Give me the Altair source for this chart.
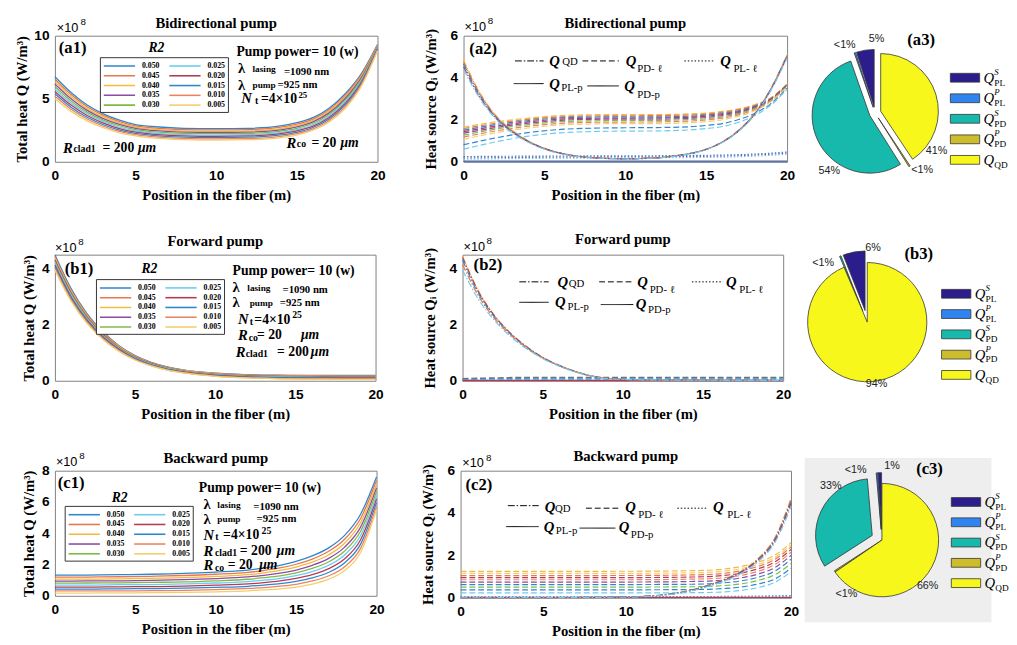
import altair as alt
import pandas as pd

SERIF = "Liberation Serif"
SANS = "Liberation Sans"

# ---------------- categories / labels ----------------
R2 = ["0.050", "0.045", "0.040", "0.035", "0.030", "0.025", "0.020", "0.015", "0.010", "0.005"]
R2_COLORS = ["#2f86cc", "#e8774c", "#f1bb3f", "#8e4aa4", "#7fba45", "#6ccbf2", "#b73a55", "#2f86cc", "#ea8460", "#f5cd6e"]
COLOR_OF = dict(zip(R2, R2_COLORS))
TITLES = ["Bidirectional pump", "Forward pump", "Backward pump"]
X_TITLE = "Position in the fiber (m)"
Y_TITLE_TOTAL = "Total heat Q (W/m³)"
Y_TITLE_SRC = "Heat source Qᵢ (W/m³)"
X_TICKS = [0, 5, 10, 15, 20]

# ---------------- (a1) total heat, bidirectional ----------------
XA = [0, 1, 2, 3, 4, 5, 6, 8, 10, 12, 14, 15, 16, 17, 18, 19, 20]
A1 = [
    [6.75, 5.50, 4.50, 3.80, 3.30, 2.95, 2.80, 2.66, 2.63, 2.66, 2.85, 3.10, 3.50, 4.25, 5.40, 7.00, 9.30],
    [6.55, 5.33, 4.36, 3.68, 3.19, 2.85, 2.70, 2.56, 2.53, 2.56, 2.75, 2.99, 3.39, 4.13, 5.27, 6.89, 9.24],
    [6.36, 5.17, 4.22, 3.56, 3.08, 2.75, 2.60, 2.46, 2.43, 2.46, 2.64, 2.88, 3.28, 4.01, 5.14, 6.78, 9.19],
    [6.17, 5.00, 4.08, 3.43, 2.97, 2.65, 2.50, 2.36, 2.33, 2.36, 2.54, 2.77, 3.17, 3.88, 5.02, 6.67, 9.13],
    [5.97, 4.83, 3.94, 3.31, 2.86, 2.55, 2.40, 2.26, 2.23, 2.26, 2.44, 2.66, 3.06, 3.76, 4.89, 6.56, 9.08],
    [5.78, 4.67, 3.81, 3.19, 2.74, 2.45, 2.30, 2.16, 2.12, 2.15, 2.33, 2.56, 2.94, 3.64, 4.76, 6.44, 9.02],
    [5.58, 4.50, 3.67, 3.07, 2.63, 2.35, 2.20, 2.06, 2.02, 2.05, 2.23, 2.45, 2.83, 3.52, 4.63, 6.33, 8.97],
    [5.39, 4.33, 3.53, 2.94, 2.52, 2.25, 2.10, 1.96, 1.92, 1.95, 2.13, 2.34, 2.72, 3.39, 4.51, 6.22, 8.91],
    [5.19, 4.17, 3.39, 2.82, 2.41, 2.15, 2.00, 1.86, 1.82, 1.85, 2.02, 2.23, 2.61, 3.27, 4.38, 6.11, 8.86],
    [5.00, 4.00, 3.25, 2.70, 2.30, 2.05, 1.90, 1.76, 1.72, 1.75, 1.92, 2.12, 2.50, 3.15, 4.25, 6.00, 8.80],
]

# ---------------- (b1) total heat, forward ----------------
XB = [0, 1, 2, 3, 4, 5, 6, 7, 8, 10, 12, 14, 16, 18, 20]
B1 = [
    [4.50, 3.30, 2.40, 1.75, 1.25, 0.90, 0.66, 0.50, 0.39, 0.27, 0.22, 0.20, 0.19, 0.19, 0.19],
    [4.44, 3.25, 2.36, 1.72, 1.23, 0.88, 0.65, 0.49, 0.38, 0.26, 0.21, 0.19, 0.18, 0.17, 0.17],
    [4.38, 3.20, 2.32, 1.69, 1.21, 0.86, 0.63, 0.47, 0.37, 0.25, 0.19, 0.17, 0.16, 0.16, 0.16],
    [4.32, 3.15, 2.28, 1.66, 1.18, 0.85, 0.62, 0.46, 0.35, 0.23, 0.18, 0.16, 0.15, 0.14, 0.14],
    [4.26, 3.10, 2.24, 1.63, 1.16, 0.83, 0.60, 0.45, 0.34, 0.22, 0.17, 0.14, 0.13, 0.13, 0.13],
    [4.19, 3.05, 2.21, 1.59, 1.14, 0.81, 0.59, 0.43, 0.33, 0.21, 0.15, 0.13, 0.12, 0.11, 0.11],
    [4.13, 3.00, 2.17, 1.56, 1.12, 0.79, 0.57, 0.42, 0.32, 0.20, 0.14, 0.11, 0.10, 0.10, 0.10],
    [4.07, 2.95, 2.13, 1.53, 1.09, 0.78, 0.56, 0.41, 0.30, 0.18, 0.13, 0.10, 0.09, 0.08, 0.08],
    [4.01, 2.90, 2.09, 1.50, 1.07, 0.76, 0.54, 0.39, 0.29, 0.17, 0.11, 0.08, 0.07, 0.07, 0.07],
    [3.95, 2.85, 2.05, 1.47, 1.05, 0.74, 0.53, 0.38, 0.28, 0.16, 0.10, 0.07, 0.06, 0.05, 0.05],
]

# ---------------- (c1) total heat, backward ----------------
XC = [0, 2, 4, 6, 8, 10, 12, 13, 14, 15, 16, 17, 18, 19, 20]
C1 = [
    [1.32, 1.33, 1.35, 1.38, 1.43, 1.52, 1.65, 1.78, 1.95, 2.20, 2.55, 3.05, 3.85, 5.20, 7.60],
    [1.19, 1.20, 1.22, 1.25, 1.30, 1.38, 1.50, 1.62, 1.78, 2.02, 2.35, 2.83, 3.60, 4.93, 7.37],
    [1.07, 1.07, 1.09, 1.12, 1.16, 1.24, 1.35, 1.47, 1.62, 1.84, 2.15, 2.61, 3.35, 4.66, 7.13],
    [0.94, 0.95, 0.96, 0.99, 1.03, 1.10, 1.21, 1.31, 1.45, 1.65, 1.95, 2.38, 3.10, 4.38, 6.90],
    [0.81, 0.82, 0.83, 0.86, 0.89, 0.96, 1.06, 1.16, 1.28, 1.47, 1.75, 2.16, 2.85, 4.11, 6.67],
    [0.69, 0.69, 0.71, 0.72, 0.76, 0.82, 0.91, 1.00, 1.12, 1.29, 1.55, 1.94, 2.60, 3.84, 6.43],
    [0.56, 0.56, 0.58, 0.59, 0.62, 0.68, 0.76, 0.84, 0.95, 1.11, 1.35, 1.72, 2.35, 3.57, 6.20],
    [0.43, 0.43, 0.45, 0.46, 0.49, 0.54, 0.61, 0.69, 0.78, 0.93, 1.15, 1.49, 2.10, 3.29, 5.97],
    [0.31, 0.31, 0.32, 0.33, 0.35, 0.40, 0.47, 0.53, 0.62, 0.74, 0.95, 1.27, 1.85, 3.02, 5.73],
    [0.18, 0.18, 0.19, 0.20, 0.22, 0.26, 0.32, 0.38, 0.45, 0.56, 0.75, 1.05, 1.60, 2.75, 5.50],
]

# ---------------- (a2) heat sources, bidirectional ----------------
QD_A_X = [0, 1, 2, 3, 4, 5, 6, 7, 8, 10, 12, 13, 14, 15, 16, 17, 18, 19, 20]
QD_A_R2 = ["0.040", "0.045", "0.050", "0.020", "0.025"]
QD_A = [
    [4.85, 3.30, 2.20, 1.50, 1.00, 0.65, 0.42, 0.28, 0.20, 0.15, 0.20, 0.28, 0.40, 0.60, 0.95, 1.50, 2.30, 3.50, 5.10],
    [4.75, 3.25, 2.17, 1.48, 0.99, 0.64, 0.41, 0.27, 0.20, 0.15, 0.20, 0.28, 0.40, 0.60, 0.95, 1.50, 2.30, 3.48, 5.07],
    [4.65, 3.18, 2.13, 1.45, 0.97, 0.63, 0.41, 0.27, 0.19, 0.15, 0.19, 0.27, 0.39, 0.59, 0.94, 1.48, 2.28, 3.46, 5.04],
    [4.52, 3.10, 2.08, 1.42, 0.95, 0.62, 0.40, 0.26, 0.19, 0.14, 0.19, 0.27, 0.39, 0.59, 0.93, 1.47, 2.26, 3.43, 5.00],
    [4.40, 3.02, 2.03, 1.38, 0.93, 0.60, 0.39, 0.26, 0.18, 0.14, 0.18, 0.26, 0.38, 0.58, 0.92, 1.45, 2.23, 3.40, 4.95],
]
PD_A_X = [0, 2, 4, 6, 8, 10, 12, 14, 15, 16, 17, 18, 19, 20]
PD_A_R2 = ["0.040", "0.045", "0.050", "0.020", "0.035", "0.030", "0.010", "0.005", "0.015", "0.025"]
PD_A = [
    [1.65, 1.90, 2.08, 2.20, 2.24, 2.25, 2.25, 2.28, 2.32, 2.40, 2.52, 2.72, 3.05, 3.70],
    [1.58, 1.83, 2.02, 2.14, 2.18, 2.19, 2.20, 2.23, 2.27, 2.35, 2.48, 2.68, 3.03, 3.68],
    [1.50, 1.77, 1.96, 2.09, 2.13, 2.14, 2.14, 2.17, 2.22, 2.30, 2.43, 2.65, 3.00, 3.67],
    [1.43, 1.70, 1.90, 2.03, 2.07, 2.08, 2.09, 2.12, 2.17, 2.25, 2.39, 2.61, 2.98, 3.65],
    [1.36, 1.63, 1.84, 1.97, 2.02, 2.03, 2.03, 2.07, 2.11, 2.20, 2.34, 2.57, 2.95, 3.63],
    [1.27, 1.56, 1.77, 1.91, 1.95, 1.97, 1.97, 2.01, 2.05, 2.14, 2.29, 2.53, 2.92, 3.61],
    [1.18, 1.47, 1.69, 1.83, 1.88, 1.89, 1.90, 1.94, 1.99, 2.08, 2.23, 2.49, 2.89, 3.59],
    [1.07, 1.38, 1.61, 1.75, 1.80, 1.82, 1.82, 1.86, 1.91, 2.00, 2.17, 2.43, 2.86, 3.56],
    [0.81, 1.14, 1.39, 1.54, 1.60, 1.62, 1.63, 1.67, 1.73, 1.82, 2.01, 2.30, 2.77, 3.50],
    [0.60, 0.95, 1.22, 1.38, 1.44, 1.46, 1.47, 1.52, 1.58, 1.68, 1.88, 2.20, 2.70, 3.45],
]
PL_A_X = [0, 4, 8, 12, 15, 17, 18, 19, 20]
PL_A_R2 = ["0.050", "0.035", "0.025"]
PL_A = [
    [0.25, 0.27, 0.28, 0.29, 0.31, 0.34, 0.37, 0.41, 0.47],
    [0.18, 0.21, 0.23, 0.24, 0.26, 0.29, 0.32, 0.36, 0.42],
    [0.12, 0.16, 0.18, 0.19, 0.21, 0.24, 0.27, 0.31, 0.36],
]
SOL_A_X = [0, 20]
SOL_A_R2 = ["0.020", "0.050"]
SOL_A = [[0.03, 0.03], [0.01, 0.01]]

# ---------------- (b2) heat sources, forward ----------------
QD_B_X = [0, 1, 2, 3, 4, 5, 6, 7, 8, 9, 10, 12, 15, 20]
QD_B_R2 = ["0.040", "0.020", "0.050", "0.045", "0.025"]
QD_B = [
    [4.45, 3.20, 2.33, 1.70, 1.22, 0.84, 0.56, 0.34, 0.18, 0.09, 0.05, 0.03, 0.02, 0.01],
    [4.40, 3.17, 2.31, 1.69, 1.21, 0.83, 0.55, 0.34, 0.18, 0.09, 0.05, 0.03, 0.02, 0.01],
    [4.30, 3.10, 2.27, 1.66, 1.19, 0.82, 0.55, 0.33, 0.17, 0.09, 0.05, 0.03, 0.02, 0.01],
    [4.15, 3.02, 2.22, 1.63, 1.17, 0.81, 0.54, 0.33, 0.17, 0.09, 0.05, 0.03, 0.02, 0.01],
    [3.95, 2.90, 2.15, 1.58, 1.14, 0.79, 0.53, 0.32, 0.17, 0.08, 0.05, 0.03, 0.02, 0.01],
]
PD_B_X = [0, 2, 5, 10, 15, 20]
PD_B_R2 = ["0.050", "0.015", "0.025"]
PD_B_COLORS = ["#707070", "#2f86cc", "#6ccbf2"]
PD_B = [
    [0.07, 0.10, 0.12, 0.12, 0.12, 0.12],
    [0.04, 0.07, 0.08, 0.08, 0.08, 0.08],
    [0.02, 0.04, 0.05, 0.05, 0.05, 0.05],
]
PL_B_X = [0, 20]
PL_B_R2 = ["0.050"]
PL_B = [[0.02, 0.02]]
SOL_B_X = [0, 20]
SOL_B_R2 = ["0.020"]
SOL_B = [[0.01, 0.01]]

# ---------------- (c2) heat sources, backward ----------------
QD_C_X = [0, 5, 8, 10, 12, 13, 14, 15, 16, 17, 18, 19, 20]
QD_C_R2 = ["0.040", "0.045", "0.050", "0.020", "0.025"]
QD_C = [
    [0.00, 0.01, 0.02, 0.04, 0.12, 0.22, 0.38, 0.60, 0.88, 1.27, 1.85, 2.80, 4.70],
    [0.00, 0.01, 0.02, 0.04, 0.12, 0.21, 0.37, 0.59, 0.87, 1.25, 1.83, 2.77, 4.62],
    [0.00, 0.01, 0.02, 0.04, 0.11, 0.21, 0.36, 0.58, 0.85, 1.23, 1.80, 2.72, 4.55],
    [0.00, 0.01, 0.02, 0.04, 0.11, 0.20, 0.35, 0.57, 0.84, 1.21, 1.77, 2.67, 4.45],
    [0.00, 0.01, 0.02, 0.03, 0.10, 0.19, 0.33, 0.54, 0.80, 1.16, 1.70, 2.58, 4.30],
]
PD_C_X = [0, 4, 8, 12, 14, 15, 16, 17, 18, 19, 20]
PD_C_R2 = ["0.040", "0.005", "0.045", "0.020", "0.010", "0.035", "0.050", "0.030", "0.015", "0.025"]
PD_C = [
    [1.25, 1.25, 1.25, 1.26, 1.28, 1.30, 1.36, 1.48, 1.68, 2.00, 2.60],
    [1.15, 1.15, 1.15, 1.16, 1.18, 1.20, 1.26, 1.38, 1.58, 1.90, 2.50],
    [1.05, 1.05, 1.05, 1.06, 1.08, 1.10, 1.16, 1.28, 1.48, 1.80, 2.40],
    [0.95, 0.95, 0.95, 0.96, 0.98, 1.00, 1.06, 1.17, 1.37, 1.68, 2.28],
    [0.85, 0.85, 0.85, 0.86, 0.88, 0.90, 0.95, 1.06, 1.25, 1.56, 2.15],
    [0.74, 0.74, 0.74, 0.75, 0.77, 0.79, 0.84, 0.94, 1.12, 1.42, 2.00],
    [0.62, 0.62, 0.62, 0.63, 0.64, 0.66, 0.71, 0.80, 0.97, 1.25, 1.82],
    [0.50, 0.50, 0.50, 0.51, 0.52, 0.54, 0.58, 0.66, 0.82, 1.08, 1.62],
    [0.37, 0.37, 0.37, 0.38, 0.39, 0.40, 0.44, 0.51, 0.65, 0.88, 1.40],
    [0.23, 0.23, 0.23, 0.23, 0.24, 0.25, 0.28, 0.35, 0.48, 0.72, 1.22],
]
PL_C_X = [0, 10, 15, 18, 20]
PL_C_R2 = ["0.050", "0.025"]
PL_C = [[0.05, 0.05, 0.06, 0.08, 0.11], [0.03, 0.03, 0.04, 0.05, 0.07]]
SOL_C_X = [0, 20]
SOL_C_R2 = ["0.020"]
SOL_C = [[0.02, 0.02]]

MID_KINDS = ["QD", "PD-l", "PL-l", "PL-p", "PD-p"]
MID_DASHES = [[7, 2, 1.5, 2], [6, 3], [1.5, 2], [1, 0], [1, 0]]

# ---------------- pies ----------------
PIE_CATS = ["Q^S_PL", "Q^P_PL", "Q^S_PD", "Q^P_PD", "Q_QD"]
PIE_COLORS = ["#2b1e8c", "#2f84f0", "#18b9ad", "#cdbd2c", "#f7f71c"]
PIE_SUP = ["S", "P", "S", "P", ""]
PIE_SUB = ["PL", "PL", "PD", "PD", "QD"]
PIE_ORDER = [4, 3, 2, 1, 0]
A3_SHARE = [5, 0.4, 54, 0.4, 41]
A3_TEXT = ["5%", "<1%", "54%", "<1%", "41%"]
B3_SHARE = [6, 0, 0.4, 0, 94]
B3_TEXT = ["6%", "", "<1%", "", "94%"]
C3_SHARE = [1, 0.4, 33, 0.4, 66]
C3_TEXT = ["1%", "<1%", "33%", "<1%", "66%"]
# styling: wedge explode (px) and label angle shift (deg)
A3_EXPLODE = [6, 6, 6, 6, 6]
B3_EXPLODE = [12, 12, 12, 0, 0]
C3_EXPLODE = [11, 11, 11, 0, 0]
A3_LABEL_SHIFT = [11, -6, -28, -7, 52]
B3_LABEL_SHIFT = [18, 0, -17, 0, 3]
C3_LABEL_SHIFT = [11, -19, 24, -23, 17]

# ---------------- annotations (text, x, y, font size) in data coordinates ----------------
ANN_A1 = {
    "b": [("(a1)", 0.24, 9.0, 17), ("Pump power= 10  (w)", 11.25, 8.7, 14), ("λ", 11.35, 7.42, 15),
          ("lasing", 12.25, 7.35, 9.5), ("=1090 nm", 14.2, 7.1, 11), ("λ", 11.35, 6.1, 15),
          ("pump", 12.25, 6.05, 9.5), ("=925 nm", 13.8, 6.05, 11), ("t", 12.4, 4.83, 10),
          ("=4×10", 12.77, 4.96, 14), ("25", 15.1, 5.3, 9), ("clad1", 1.15, 0.98, 10),
          ("= 200", 2.95, 1.1, 14), ("co", 15.0, 1.4, 10), ("= 20", 15.9, 1.47, 14)],
    "bi": [("R2", 5.8, 9.0, 14), ("N", 11.55, 5.04, 15), ("R", 0.5, 1.1, 15), ("μm", 5.15, 1.1, 14),
           ("R", 14.36, 1.47, 15), ("μm", 17.7, 1.47, 14)],
    "s": [("×10", 0.12, 10.58, 13), ("8", 1.58, 11.12, 10)],
}
ANN_B1 = {
    "b": [("(b1)", 0.61, 4.0, 17), ("Pump power= 10  (w)", 11.08, 3.93, 14), ("λ", 11.08, 3.34, 15),
          ("lasing", 12.0, 3.32, 9.5), ("=1090 nm", 14.2, 3.23, 11), ("λ", 11.08, 2.81, 15),
          ("pump", 12.15, 2.76, 9.5), ("=925 nm", 14.03, 2.76, 11), ("t", 12.15, 2.11, 10),
          ("=4×10", 12.44, 2.15, 14), ("25", 14.8, 2.33, 10), ("co", 12.09, 1.54, 10),
          ("= 20", 12.6, 1.62, 14), ("clad1", 11.9, 0.95, 10), ("= 200", 13.86, 1.03, 14)],
    "bi": [("R2", 5.4, 4.0, 14), ("N", 11.42, 2.2, 15), ("R", 11.42, 1.62, 15), ("μm", 15.35, 1.62, 14),
           ("R", 11.28, 1.03, 15), ("μm", 15.96, 1.03, 14)],
    "s": [("×10", 0.0, 4.73, 13), ("8", 1.46, 4.96, 10)],
}
ANN_C1 = {
    "b": [("(c1)", 0.18, 7.21, 17), ("Pump power= 10  (w)", 8.95, 6.86, 14), ("λ", 9.24, 5.87, 15),
          ("lasing", 10.1, 5.83, 9.5), ("=1090 nm", 12.34, 5.66, 11), ("λ", 9.24, 4.92, 15),
          ("pump", 10.1, 4.88, 9.5), ("=925 nm", 12.54, 4.88, 11), ("t", 9.97, 3.76, 10),
          ("=4×10", 10.46, 3.86, 14), ("25", 12.85, 4.12, 10), ("clad1", 9.95, 2.73, 10),
          ("= 200", 11.5, 2.87, 14), ("co", 9.95, 1.8, 10), ("= 20", 10.75, 1.94, 14)],
    "bi": [("R2", 3.53, 6.24, 14), ("N", 9.24, 3.91, 15), ("R", 9.24, 2.87, 15), ("μm", 13.8, 2.87, 14),
           ("R", 9.24, 1.94, 15), ("μm", 12.7, 1.94, 14)],
    "s": [("×10", 0.06, 8.57, 13), ("8", 1.52, 8.93, 10)],
}
MID_A = {
    "tag": ("(a2)", 0.36, 5.38),
    "samples": [(3.18, 4.95, 4.8, "QD"), (7.35, 9.6, 4.8, "PD-l"), (13.65, 15.45, 4.8, "PL-l"),
                (3.1, 4.95, 3.72, "PL-p"), (7.65, 9.6, 3.61, "PD-p")],
    "Q": [(5.3, 4.8), (10.03, 4.8), (15.87, 4.8), (5.3, 3.72), (9.93, 3.61)],
    "sub": [("QD", 6.1, 4.73), ("PD- ℓ", 10.74, 4.39), ("PL- ℓ", 16.68, 4.42), ("PL-p", 6.04, 3.52), ("PD-p", 10.74, 3.18)],
    "exp": ((0.06, 6.4), (1.5, 6.7)),
}
MID_B = {
    "tag": ("(b2)", 0.69, 4.14),
    "samples": [(3.54, 5.37, 3.53, "QD"), (8.52, 10.65, 3.53, "PD-l"), (14.31, 16.24, 3.53, "PL-l"),
                (3.54, 5.37, 2.8, "PL-p"), (8.62, 10.65, 2.72, "PD-p")],
    "Q": [(5.93, 3.53), (10.9, 3.53), (16.44, 3.53), (5.77, 2.8), (10.81, 2.74)],
    "sub": [("QD", 6.63, 3.46), ("PD- ℓ", 11.67, 3.23), ("PL- ℓ", 17.26, 3.23), ("PL-p", 6.54, 2.63), ("PD-p", 11.57, 2.54)],
    "exp": ((0.06, 4.77), (1.5, 4.97)),
}
MID_C = {
    "tag": ("(c2)", 0.3, 5.33),
    "samples": [(2.86, 4.73, 4.35, "QD"), (7.59, 9.66, 4.23, "PD-l"), (13.12, 14.9, 4.23, "PL-l"),
                (2.76, 4.73, 3.36, "PL-p"), (7.2, 9.37, 3.29, "PD-p")],
    "Q": [(5.09, 4.3), (9.96, 4.27), (15.28, 4.27), (5.03, 3.36), (9.57, 3.32)],
    "sub": [("QD", 5.72, 4.2), ("PD- ℓ", 10.75, 3.9), ("PL- ℓ", 16.14, 3.9), ("PL-p", 5.76, 3.17), ("PD-p", 10.3, 2.95)],
    "exp": ((0.1, 6.36), (1.54, 6.62)),
}

STYLES = {"b": (SERIF, "bold", "normal"), "bi": (SERIF, "bold", "italic"),
          "r": (SERIF, "normal", "normal"), "s": (SANS, "normal", "normal")}


def long_df(xs, curves, names, tag, colors=None):
    rows = []
    for i, (name, ys) in enumerate(zip(names, curves)):
        col = colors[i] if colors else COLOR_OF[name]
        for x, y in zip(xs, ys):
            rows.append({"x": x, "y": y, "r2": name, "sid": f"{tag}{i}", "col": col})
    return pd.DataFrame(rows)


def sx():
    return alt.Scale(domain=[0, 20], nice=False, zero=False)


def sy(top):
    return alt.Scale(domain=[0, top], nice=False, zero=False)


def axis_x():
    return alt.Axis(values=X_TICKS, title=X_TITLE, format="d", labelFlush=False, labelPadding=7, titlePadding=6)


def axis_y(vals, title, tpad):
    return alt.Axis(values=vals, title=title, format="d", labelFlush=False, labelPadding=6, titlePadding=tpad)


def ptitle(text, off):
    return alt.TitleParams(text, offset=off)


def text_layers(ann, X, Y, AX, AY):
    out = []
    for key, rows in ann.items():
        font, weight, style = STYLES[key]
        df = pd.DataFrame(rows, columns=["t", "x", "y", "s"])
        out.append(alt.Chart(df).mark_text(align="left", baseline="middle", font=font, fontWeight=weight,
                                           fontStyle=style, color="black").encode(
            x=alt.X("x:Q", scale=X, axis=AX), y=alt.Y("y:Q", scale=Y, axis=AY),
            text="t:N", size=alt.Size("s:Q", scale=None, legend=None)))
    return out


def left_panel(xs, curves, ytop, yvals, title, toff, w, h, legx, legy, ann):
    X, Y = sx(), sy(ytop)
    AX, AY = axis_x(), axis_y(yvals, Y_TITLE_TOTAL, 5)
    df = long_df(xs, curves, R2, "c")
    lines = alt.Chart(df).mark_line(strokeWidth=1.3, interpolate="monotone").encode(
        x=alt.X("x:Q", scale=X, axis=AX),
        y=alt.Y("y:Q", scale=Y, axis=AY),
        color=alt.Color("r2:N",
                        scale=alt.Scale(domain=R2, range=R2_COLORS),
                        legend=alt.Legend(orient="none", legendX=legx, legendY=legy, columns=2, title=None,
                                          symbolType="M-3.2,0H3.2", symbolSize=100, symbolStrokeWidth=1.6,
                                          symbolOffset=11, labelOffset=17, labelFont=SERIF,
                                          labelFontWeight="bold", labelFontSize=8, labelColor="black",
                                          fillColor="white", strokeColor="#333333", padding=3,
                                          rowPadding=0, columnPadding=6)))
    return alt.layer(lines, *text_layers(ann, X, Y, AX, AY)).properties(
        width=w, height=h, title=ptitle(title, toff))


def mid_panel(groups, ytop, yvals, title, toff, w, h, lg):
    X, Y = sx(), sy(ytop)
    AX, AY = axis_x(), axis_y(yvals, Y_TITLE_SRC, 12)
    layers = []
    for df, dash, sw in groups:
        mk = dict(strokeWidth=sw, interpolate="monotone")
        if dash:
            mk["strokeDash"] = dash
        layers.append(alt.Chart(df).mark_line(**mk).encode(
            x=alt.X("x:Q", scale=X, axis=AX), y=alt.Y("y:Q", scale=Y, axis=AY),
            detail="sid:N", color=alt.Color("col:N", scale=None)))
    sdf = pd.DataFrame(lg["samples"], columns=["x", "x2", "y", "kind"])
    layers.append(alt.Chart(sdf).mark_rule(color="black", strokeWidth=1).encode(
        x=alt.X("x:Q", scale=X, axis=AX), x2="x2:Q", y=alt.Y("y:Q", scale=Y, axis=AY),
        strokeDash=alt.StrokeDash("kind:N", scale=alt.Scale(domain=MID_KINDS, range=MID_DASHES), legend=None)))
    t = lg["tag"]
    ann = {"b": [(t[0], t[1], t[2], 17)],
           "bi": [("Q", x, y, 15) for x, y in lg["Q"]],
           "r": [(s, x, y, 11) for s, x, y in lg["sub"]],
           "s": [("×10", lg["exp"][0][0], lg["exp"][0][1], 13), ("8", lg["exp"][1][0], lg["exp"][1][1], 10)]}
    layers += text_layers(ann, X, Y, AX, AY)
    return alt.layer(*layers).properties(width=w, height=h, title=ptitle(title, toff))


def pie_panel(shares, texts, explode, shift, cx, cy, r, lab_r, tag, tagx, tagy, lx, ly0, step, w, h, bg=None):
    df = pd.DataFrame({"cat": PIE_CATS, "v": shares, "lab": texts, "ex": explode, "sh": shift,
                       "col": PIE_COLORS, "sup": PIE_SUP, "sub": PIE_SUB, "o": PIE_ORDER, "i": list(range(5))})
    base = (alt.Chart(df)
            .transform_joinaggregate(tot="sum(v)")
            .transform_window(cum="sum(v)", sort=[alt.SortField("o", order="ascending")], frame=[None, 0])
            .transform_calculate(t1="2*PI*datum.cum/datum.tot", t0="2*PI*(datum.cum-datum.v)/datum.tot")
            .transform_calculate(mid="(datum.t0+datum.t1)/2")
            .transform_calculate(px=f"{cx}+datum.ex*sin(datum.mid)", py=f"{cy}-datum.ex*cos(datum.mid)",
                                 la="datum.mid+datum.sh*PI/180", ly=f"{ly0}+datum.i*{step}"))
    pos = dict(x=alt.X("px:Q", scale=None, axis=None), y=alt.Y("py:Q", scale=None, axis=None))
    layers = []
    if bg:
        layers.append(alt.Chart(pd.DataFrame({"b": [1]})).mark_rect(color=bg).encode(
            x=alt.value(0), x2=alt.value(w - 4), y=alt.value(-13), y2=alt.value(h)))
    layers.append(base.transform_filter("datum.v > 0").mark_arc(radius=r, stroke="#333333", strokeWidth=0.8).encode(
        theta=alt.Theta("t0:Q", scale=None, stack=None), theta2=alt.Theta2("t1:Q"),
        fill=alt.Fill("col:N", scale=None), **pos))
    layers.append(base.transform_filter("datum.lab != ''").mark_text(font=SANS, fontSize=11, color="#222222").encode(
        theta=alt.Theta("la:Q", scale=None, stack=None), radius=alt.value(lab_r), text="lab:N", **pos))
    layers.append(base.transform_calculate(y0="datum.ly-4.5", y1="datum.ly+4.5").mark_rect(
        stroke="#333333", strokeWidth=0.8).encode(
        x=alt.value(lx), x2=alt.value(lx + 30), y=alt.Y("y0:Q", scale=None, axis=None), y2="y1:Q",
        fill=alt.Fill("col:N", scale=None)))
    layers.append(base.mark_text(align="left", baseline="middle", font=SERIF, fontStyle="italic", fontSize=15,
                                 color="black").encode(x=alt.value(lx + 34), y=alt.Y("ly:Q", scale=None, axis=None),
                                                       text=alt.value("Q")))
    layers.append(base.transform_filter("datum.sup != ''").transform_calculate(yu="datum.ly-6").mark_text(
        align="left", baseline="middle", font=SERIF, fontStyle="italic", fontSize=9, color="black").encode(
        x=alt.value(lx + 45), y=alt.Y("yu:Q", scale=None, axis=None), text="sup:N"))
    layers.append(base.transform_calculate(yd="datum.ly+5").mark_text(
        align="left", baseline="middle", font=SERIF, fontSize=9.5, color="black").encode(
        x=alt.value(lx + 45), y=alt.Y("yd:Q", scale=None, axis=None), text="sub:N"))
    layers.append(alt.Chart(pd.DataFrame({"t": [tag]})).mark_text(
        align="left", baseline="middle", font=SERIF, fontWeight="bold", fontSize=17, color="black").encode(
        x=alt.value(tagx), y=alt.value(tagy), text="t:N"))
    return alt.layer(*layers).properties(width=w, height=h, view=alt.ViewBackground(strokeOpacity=0))


def ind(c):
    return c.resolve_scale(color="independent", strokeDash="independent").resolve_legend(color="independent")


groups_a = [
    (long_df(PD_A_X, PD_A, PD_A_R2, "d"), [6, 3], 1.2),
    (long_df(PL_A_X, PL_A, PL_A_R2, "p"), [1.5, 2], 1.2),
    (long_df(SOL_A_X, SOL_A, SOL_A_R2, "s"), None, 1.2),
    (long_df(QD_A_X, QD_A, QD_A_R2, "q"), [7, 2, 1.5, 2], 1.2),
]
groups_b = [
    (long_df(PD_B_X, PD_B, PD_B_R2, "d", PD_B_COLORS), [6, 3], 1.6),
    (long_df(PL_B_X, PL_B, PL_B_R2, "p"), [1.5, 2], 1.2),
    (long_df(SOL_B_X, SOL_B, SOL_B_R2, "s"), None, 1.4),
    (long_df(QD_B_X, QD_B, QD_B_R2, "q"), [7, 2, 1.5, 2], 1.2),
]
groups_c = [
    (long_df(PD_C_X, PD_C, PD_C_R2, "d"), [6, 3], 1.2),
    (long_df(PL_C_X, PL_C, PL_C_R2, "p"), [1.5, 2], 1.2),
    (long_df(SOL_C_X, SOL_C, SOL_C_R2, "s"), None, 1.4),
    (long_df(QD_C_X, QD_C, QD_C_R2, "q"), [7, 2, 1.5, 2], 1.2),
]

left_a = left_panel(XA, A1, 10, [0, 5, 10], TITLES[0], -15, 330, 129, 46, 22, ANN_A1)
mid_a = mid_panel(groups_a, 6, [0, 2, 4, 6], TITLES[0], -15, 331, 129, MID_A)
pie_a = pie_panel(A3_SHARE, A3_TEXT, A3_EXPLODE, A3_LABEL_SHIFT, 76, 79, 59, 70, "(a3)", 109, 4,
                  153, 43, 21, 195, 165)

left_b = left_panel(XB, B1, 4.5, [0, 2, 4], TITLES[1], -12, 328, 129, 42, 25, ANN_B1)
mid_b = mid_panel(groups_b, 4.5, [0, 2, 4], TITLES[1], -11, 328, 129, MID_B)
pie_b = pie_panel(B3_SHARE, B3_TEXT, B3_EXPLODE, B3_LABEL_SHIFT, 72, 69, 61, 64, "(b3)", 110, -1,
                  148, 40, 20.75, 195, 165)

left_c = left_panel(XC, C1, 8, [0, 2, 4, 6, 8], TITLES[2], -15, 329, 128, 10, 36, ANN_C1)
mid_c = mid_panel(groups_c, 6, [0, 2, 4, 6], TITLES[2], -12, 338, 130, MID_C)
pie_c = pie_panel(C3_SHARE, C3_TEXT, C3_EXPLODE, C3_LABEL_SHIFT, 79, 71, 58, 66, "(c3)", 114, -2,
                  150, 32, 20.75, 195, 155, bg="#eeeeee")

row_a = ind(alt.hconcat(ind(alt.hconcat(left_a, mid_a, spacing=37)), pie_a, spacing=5))
row_b = ind(alt.hconcat(ind(alt.hconcat(left_b, mid_b, spacing=38)), pie_b, spacing=5))
row_c = ind(alt.hconcat(ind(alt.hconcat(left_c, mid_c, spacing=35)), pie_c, spacing=5))

top2 = ind(alt.concat(row_a, row_b, columns=1, spacing=29))
chart = ind(alt.concat(top2, row_c, columns=1, spacing=27))

chart = (chart
         .configure_view(stroke="#808080", strokeWidth=1)
         .configure_axis(labelFont=SANS, labelFontWeight="bold", labelFontSize=14, labelColor="black",
                         titleFont=SERIF, titleFontWeight="bold", titleFontSize=15, titleColor="black",
                         ticks=False, domain=False, grid=False, labelOverlap=False)
         .configure_title(font=SERIF, fontSize=15, fontWeight="bold", color="black", anchor="middle")
         .properties(padding={"left": 5, "top": 0, "right": 0, "bottom": 0}, background="white"))

chart.save("out.html", embed_options={"renderer": "svg", "actions": False})
